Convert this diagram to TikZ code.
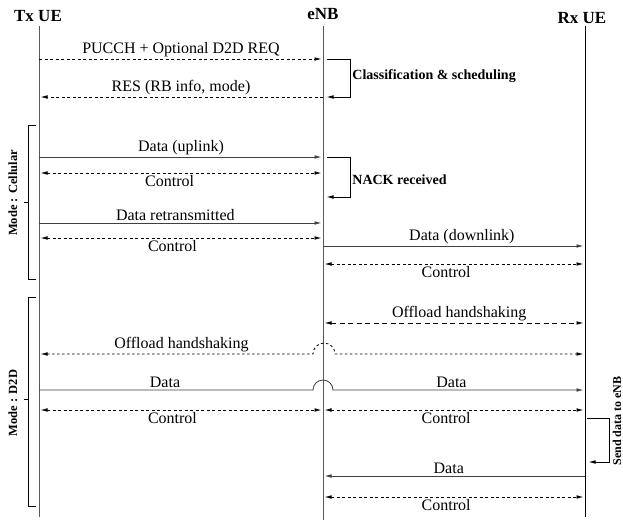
\documentclass[tikz,border=0pt]{standalone}
\usepackage{fontspec}
\setmainfont{Liberation Serif}
\usetikzlibrary{arrows.meta,positioning,calc}

\begin{document}
\begin{tikzpicture}[x=1pt,y=-1pt,
    lifeline/.style={draw=black!65,line width=0.9pt},
    msg/.style={-{Latex[length=7pt,width=3.6pt]},line width=0.8pt,shorten >=1.5pt},
    ctrl/.style={{Latex[length=7pt,width=3.6pt]}-{Latex[length=7pt,width=3.6pt]},line width=0.8pt,dash pattern=on 3pt off 2.5pt,shorten >=1.5pt,shorten <=1.5pt},
    lbl/.style={font=\fontsize{16}{18}\selectfont,inner sep=1.5pt},
    note/.style={font=\bfseries\fontsize{14}{16}\selectfont,inner sep=2pt},
    side/.style={font=\bfseries\fontsize{12.5}{14}\selectfont,rotate=90,inner sep=0pt},
    head/.style={font=\bfseries\fontsize{17}{20}\selectfont}]
\useasboundingbox (0,0) rectangle (623,524);

% entities
\node[head] (tx)  at (38,16) {Tx UE};
\node[head] (enb) at (323,14) {eNB};
\node[head] (rx)  at (582,18) {Rx UE};

\coordinate (txl)  at (39,26);  \coordinate (txe)  at (39,517);
\coordinate (enbl) at (323,26); \coordinate (enbe) at (323,520);
\coordinate (rxl)  at (585,26); \coordinate (rxe)  at (585,517);
\draw[lifeline] (txl) -- (txe);
\draw[lifeline] (enbl) -- (enbe);
\draw[lifeline,draw=black] (rxl) -- (rxe);

% request phase
\coordinate (req) at (0,59);
\coordinate (res) at (0,97);
\draw[msg,dash pattern=on 3pt off 2.5pt] (txl |- req) -- node[lbl,above] {PUCCH + Optional D2D REQ} (enbl |- req);
\draw[msg,dash pattern=on 3pt off 2.5pt] (enbl |- res) -- node[lbl,above] {RES (RB info, mode)} (txl |- res);
\draw[msg] ($(enbl |- req)+(4,0)$) -- ++(23,0) |- node[note,right,pos=.22] {Classification \& scheduling} ($(enbl |- res)+(2,0)$);

% mode: cellular
\coordinate (up) at (0,157);
\coordinate (c1) at (0,173);
\coordinate (nack) at (0,197);
\coordinate (retx) at (0,223);
\coordinate (c2) at (0,238);
\coordinate (down) at (0,246);
\coordinate (c3) at (0,264);
\draw[msg,draw=black!75] (txl |- up) -- node[lbl,above] {Data (uplink)} (enbl |- up);
\draw[ctrl] (txl |- c1) -- node[lbl,below,pos=.46] {Control} (enbl |- c1);
\draw[msg] ($(enbl |- up)+(4,0)$) -- ++(23,0) |- node[note,right,pos=.28] {NACK received} ($(enbl |- nack)+(2,0)$);
\draw[msg,draw=black!75] (txl |- retx) -- node[lbl,above,pos=.48] {Data retransmitted} (enbl |- retx);
\draw[ctrl] (txl |- c2) -- node[lbl,below,pos=.47] {Control} (enbl |- c2);
\draw[msg,draw=black!75] (enbl |- down) -- node[lbl,above,pos=.53] {Data (downlink)} (rxl |- down);
\draw[ctrl] (enbl |- c3) -- node[lbl,below,pos=.47] {Control} (rxl |- c3);

\draw (36,125) -- (28,125) -- (28,279) -- (36,279);
\draw (28,202) -- (24,202);
\node[side] (cell) at (13,193) {Mode : Cellular};

% mode: D2D
\coordinate (off1) at (0,323);
\coordinate (off2) at (0,354);
\coordinate (dat) at (0,390);
\coordinate (c4) at (0,410);
\coordinate (send) at (0,418);
\coordinate (back) at (0,462);
\coordinate (dat2) at (0,476);
\coordinate (c5) at (0,497);
\draw[ctrl,dash pattern=on 5pt off 3.5pt] (enbl |- off1) -- node[lbl,above,pos=.52] {Offload handshaking} (rxl |- off1);
\draw[ctrl,dash pattern=on 2.5pt off 2.5pt] (txl |- off2) -- node[lbl,above,pos=.52] {Offload handshaking} ($(enbl |- off2)+(-10,0)$)
    arc[start angle=180,end angle=0,radius=11pt] -- (rxl |- off2);
\draw[msg,draw=black!75] (txl |- dat) -- node[lbl,above,pos=.46] {Data} ($(enbl |- dat)+(-10,0)$)
    arc[start angle=180,end angle=0,radius=10pt] -- node[lbl,above,pos=.47] {Data} (rxl |- dat);
\draw[ctrl] (txl |- c4) -- node[lbl,below,pos=.47] {Control} (enbl |- c4);
\draw[ctrl] (enbl |- c4) -- node[lbl,below,pos=.47] {Control} (rxl |- c4);
\draw[msg] ($(rxl |- send)+(2,0)$) -- ++(22,0) |- ($(rxl |- back)+(2,0)$);
\node[side,font=\bfseries\fontsize{12}{14}\selectfont] (sendlbl) at (617,421) {Send data to eNB};
\draw[msg,draw=black!75] (rxl |- dat2) -- node[lbl,above,pos=.52] {Data} (enbl |- dat2);
\draw[ctrl] (enbl |- c5) -- node[lbl,below,pos=.47] {Control} (rxl |- c5);

\draw (36,297) -- (28,297) -- (28,506) -- (36,506);
\draw (28,399) -- (24,399);
\node[side] (d2d) at (13,403) {Mode : D2D};
\end{tikzpicture}
\end{document}
